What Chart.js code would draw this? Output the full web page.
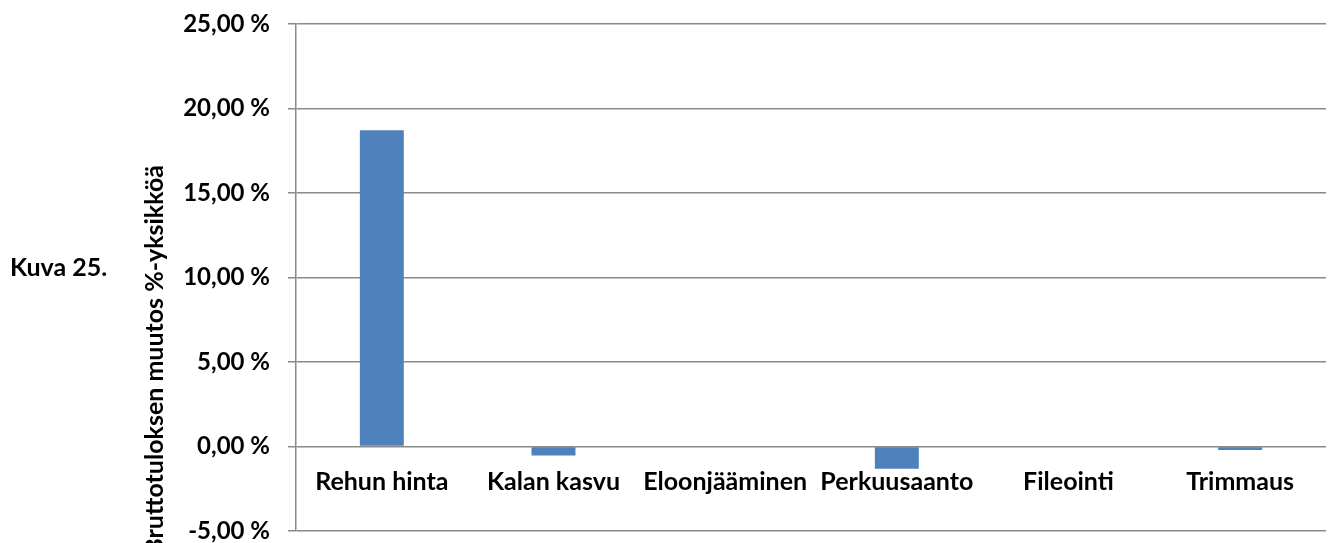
<!DOCTYPE html>
<html lang="fi">
<head>
<meta charset="UTF-8">
<title>Kuva 25.</title>
<script src="https://cdn.jsdelivr.net/npm/chart.js"></script>
<style>
  html, body { margin: 0; padding: 0; background: #fff; }
  #wrap { position: relative; width: 1332px; height: 543px; }
  #caption { position: absolute; left: 10px; top: 251px; font: bold 25px/30px Lato, sans-serif; color: #000; }
</style>
</head>
<body>
<div id="wrap">
  <canvas id="chart" width="1332" height="543"></canvas>
  <div id="caption">Kuva 25.</div>
</div>
<script>
const categories = ['Rehun hinta', 'Kalan kasvu', 'Eloonjääminen', 'Perkuusaanto', 'Fileointi', 'Trimmaus'];
const changes = [18.72, -0.53, 0, -1.32, 0, -0.2];
const yTicks = [-5, 0, 5, 10, 15, 20, 25];
const yTitle = 'Bruttotuloksen muutos %-yksikköä';

const FONT = 'Lato, sans-serif';

// y-akselin otsikko piirretään itse, jotta se saadaan samaan kohtaan kuin alkuperäisessä
const yTitlePlugin = {
    id: 'yTitle',
    afterDraw(chart) {
        const ctx = chart.ctx;
        ctx.save();
        ctx.translate(155, 165);
        ctx.rotate(-Math.PI / 2);
        ctx.font = 'bold 25px ' + FONT;
        ctx.fillStyle = '#000';
        ctx.textAlign = 'right';
        ctx.textBaseline = 'middle';
        ctx.fillText(yTitle, 0, 0);
        ctx.restore();
    }
};

new Chart(document.getElementById('chart'), {
    type: 'bar',
    data: {
        labels: categories,
        datasets: [{
            data: changes,
            backgroundColor: '#4F81BD',
            barPercentage: 0.256,
            categoryPercentage: 1
        }]
    },
    options: {
        responsive: false,
        animation: false,
        layout: { padding: { top: 24, right: 6, bottom: 12, left: 0 } },
        plugins: { legend: { display: false }, tooltip: { enabled: false } },
        scales: {
            x: {
                position: { y: 0 },
                grid: { display: false, drawTicks: false },
                border: { display: false },
                ticks: {
                    color: '#000',
                    padding: 20,
                    maxRotation: 0,
                    autoSkip: false,
                    font: { family: FONT, size: 25, weight: 'bold' }
                }
            },
            y: {
                min: -5,
                max: 25,
                afterBuildTicks(scale) {
                    scale.ticks = yTicks.map(v => ({ value: v }));
                },
                afterFit(scale) {
                    scale.width = 296;
                    scale.paddingTop = 0;
                    scale.paddingBottom = 0;
                },
                grid: { color: '#8a8a8a', lineWidth: 1.5, tickLength: 8 },
                border: { color: '#8a8a8a', width: 1.5 },
                ticks: {
                    color: '#000',
                    padding: 18,
                    font: { family: FONT, size: 24, weight: 'bold' },
                    callback: v => v.toFixed(2).replace('.', ',') + ' %'
                }
            }
        }
    },
    plugins: [yTitlePlugin]
});
</script>
</body>
</html>
